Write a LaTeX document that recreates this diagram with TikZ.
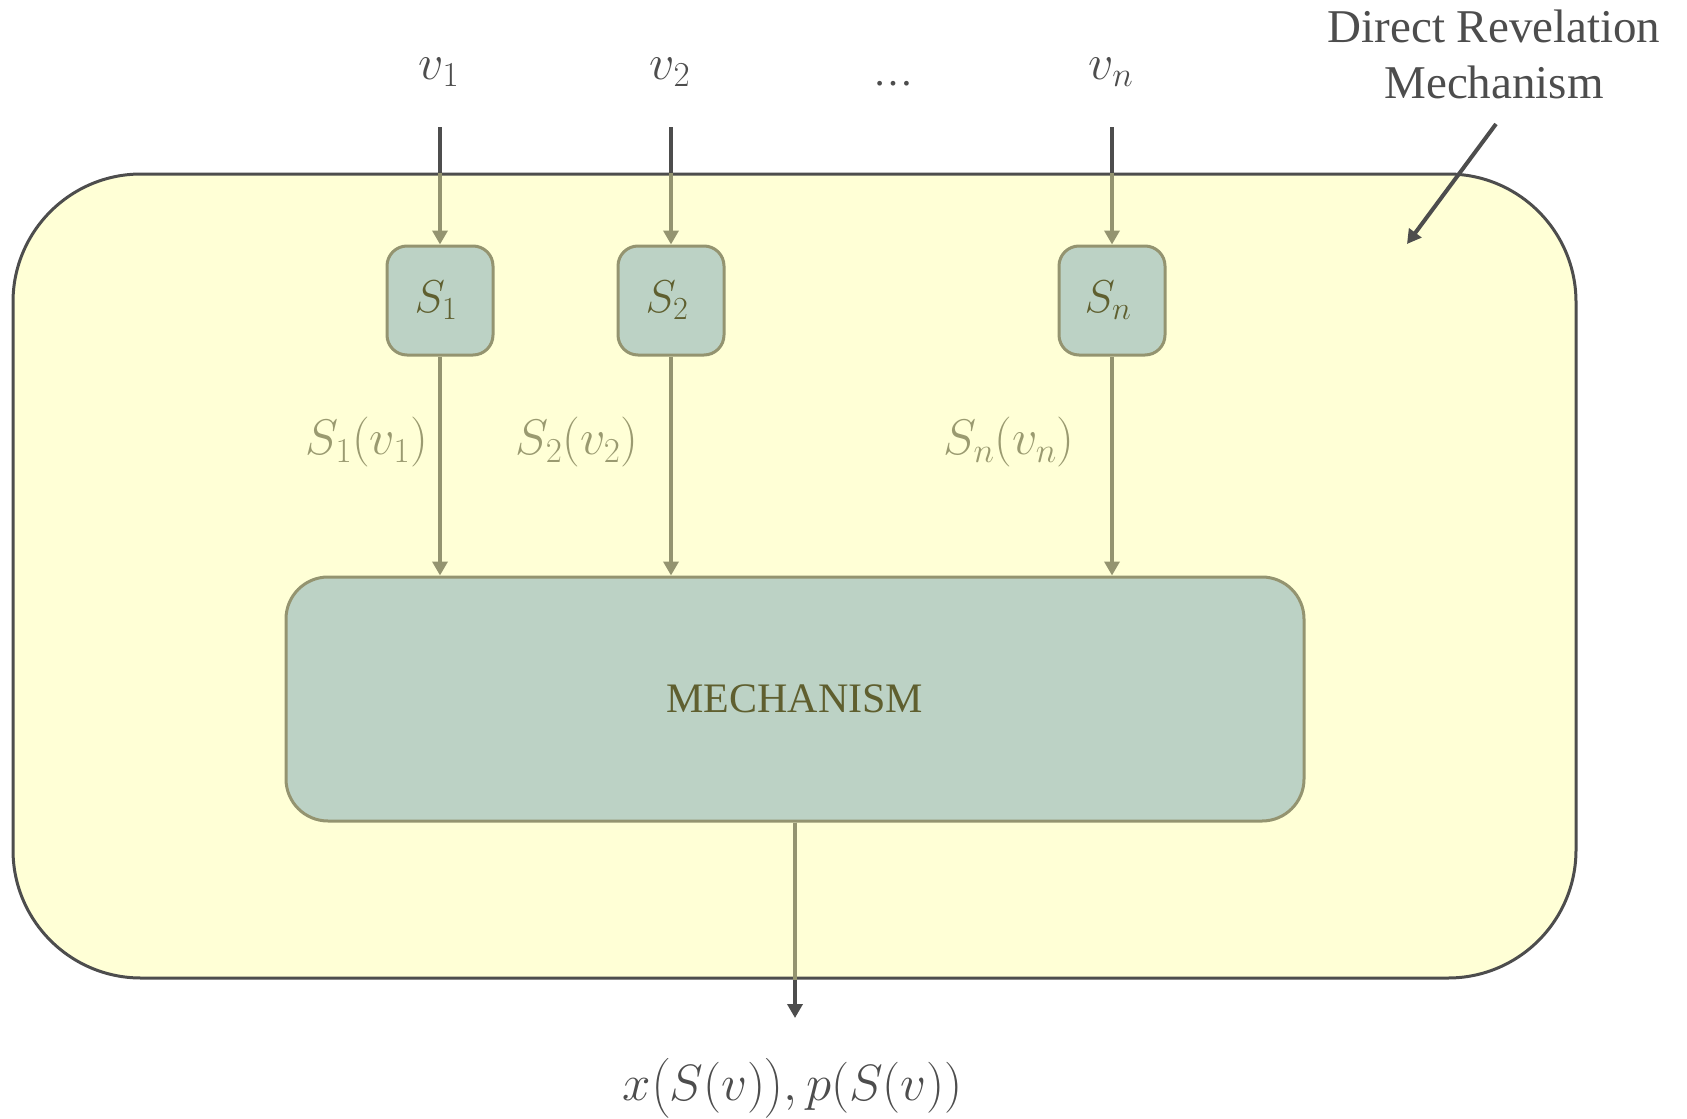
\RequirePackage{fix-cm}
\documentclass[tikz,border=0pt]{standalone}
\usepackage{amsmath}
\usepackage{fontspec}
\setmainfont{Liberation Serif}
\usetikzlibrary{arrows.meta}
\definecolor{darkln}{HTML}{4D4D4D}
\definecolor{yellowbg}{HTML}{FFFFD6}
\definecolor{boxfill}{HTML}{BCD2C5}
\definecolor{oliveln}{HTML}{949470}
\definecolor{olivetxt}{HTML}{5F5F2F}
\definecolor{lightolive}{HTML}{9A9A70}
\tikzset{
  outerbox/.style={draw=darkln, line width=3pt, fill=yellowbg, rounded corners=128pt, inner sep=0pt},
  sbox/.style={draw=oliveln, line width=3pt, fill=boxfill, rounded corners=20pt, minimum width=106pt, minimum height=109pt, inner sep=0pt, text=olivetxt, font=\fontsize{46}{52}\selectfont},
  mechbox/.style={draw=oliveln, line width=3pt, fill=boxfill, rounded corners=42pt, minimum width=1018pt, minimum height=244pt, inner sep=0pt, text=olivetxt, font=\fontsize{42}{50}\selectfont},
  oarrow/.style={draw=oliveln, line width=4pt, -{Triangle[length=14pt,width=15pt]}},
  oline/.style={draw=oliveln, line width=4pt},
  darkline/.style={draw=darkln, line width=4pt},
  darkarrow/.style={draw=darkln, line width=4pt, -{Triangle[length=14pt,width=15pt]}},
  toplbl/.style={text=darkln, inner sep=0pt, font=\fontsize{50}{56}\selectfont},
  fnlbl/.style={text=lightolive, inner sep=0pt, font=\fontsize{50}{56}\selectfont},
}
\begin{document}
\begin{tikzpicture}[x=1pt,y=-1pt]
\fill[white] (0,0) rectangle (1687,1119);
\useasboundingbox (0,0) rectangle (1687,1119);

% outer box
\node[outerbox, minimum width=1563pt, minimum height=804pt] (outer) at (794.5,576) {};

% strategy boxes
\node[sbox] (S1) at (440,300.5) {\hspace*{-8pt}$S_1$};
\node[sbox] (S2) at (671,300.5) {\hspace*{-8pt}$S_2$};
\node[sbox] (Sn) at (1112,300.5) {\hspace*{-8pt}$S_n$};

% mechanism
\node[mechbox] (mech) at (795,699) {MECHANISM};

% top labels
\node[toplbl] (v1) at (439,72) {$v_1$};
\node[toplbl] (v2) at (670,72) {$v_2$};
\node[toplbl, font=\fontsize{40}{50}\selectfont] (dots) at (893,84) {\dots};
\node[toplbl] (vn) at (1111,72) {$v_n$};

\coordinate (v1t) at (440,127);
\coordinate (v2t) at (671,127);
\coordinate (vnt) at (1112,127);

% input arrows
\draw[oarrow] (v1t) -- (S1.north);
\draw[oarrow] (v2t) -- (S2.north);
\draw[oarrow] (vnt) -- (Sn.north);
\draw[darkline] (v1t) -- (v1t |- outer.north);
\draw[darkline] (v2t) -- (v2t |- outer.north);
\draw[darkline] (vnt) -- (vnt |- outer.north);

% strategy outputs
\draw[oarrow] (S1.south) -- (S1.south |- mech.north);
\draw[oarrow] (S2.south) -- (S2.south |- mech.north);
\draw[oarrow] (Sn.south) -- (Sn.south |- mech.north);

\node[fnlbl, anchor=east] (l1) at (428,442) {$S_1(v_1)$};
\node[fnlbl] (l2) at (577,442) {$S_2(v_2)$};
\node[fnlbl] (ln) at (1009,442) {$S_n(v_n)$};

% output
\coordinate (outtip) at (795,1018);
\draw[darkarrow] (mech.south) -- (outtip);
\draw[oline] (mech.south) -- (mech.south |- outer.south);
\node[toplbl, font=\fontsize{51}{56}\selectfont] (res) at (793,1088) {$x\bigl(S(v)\bigr),p(S(v))$};

% label
\node[toplbl, anchor=north, align=center, font=\fontsize{47}{56}\selectfont] (drm) at (1494,10) {Direct Revelation\\Mechanism};
\coordinate (drmtail) at (1496,124);
\coordinate (drmtip) at (1407,244);
\draw[darkarrow] (drmtail) -- (drmtip);
\end{tikzpicture}
\end{document}
